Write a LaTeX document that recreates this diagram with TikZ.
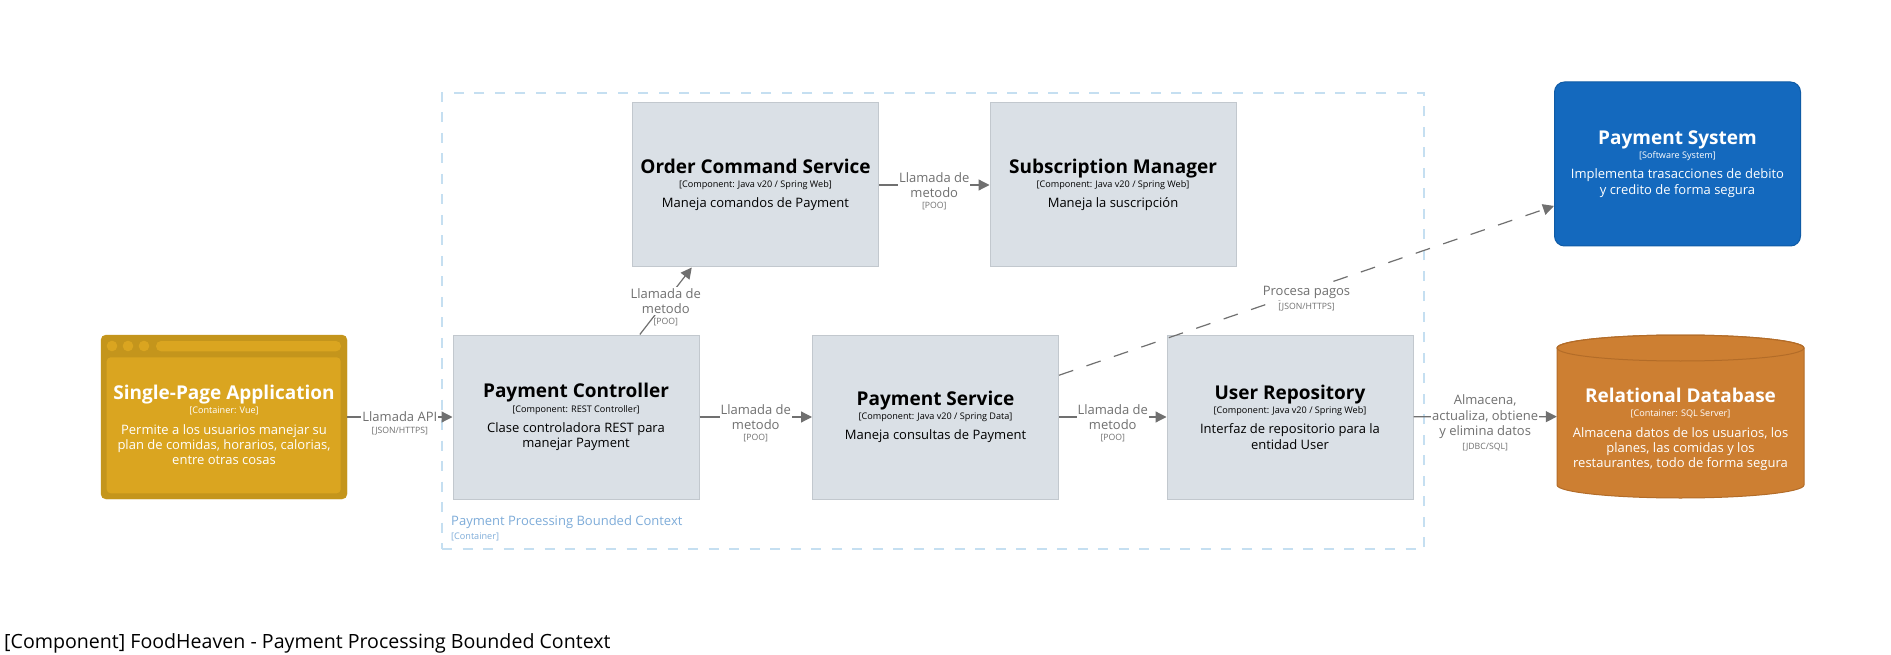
\documentclass[tikz,border=0pt]{standalone}
\usepackage{fontspec}
\setmainfont{Open Sans}
\usetikzlibrary{shapes.geometric, arrows.meta}

\definecolor{compfill}{HTML}{DAE0E6}
\definecolor{compline}{HTML}{C2C8CE}
\definecolor{spadark}{HTML}{C4951C}
\definecolor{spalight}{HTML}{DAA520}
\definecolor{sysfill}{HTML}{1469BE}
\definecolor{sysline}{HTML}{0F5BA6}
\definecolor{dbfill}{HTML}{CD7F32}
\definecolor{dbline}{HTML}{B36C28}
\definecolor{relgray}{HTML}{707070}
\definecolor{ctxline}{HTML}{C5DFF1}
\definecolor{ctxtext}{HTML}{7EACD9}

\newcommand{\ttl}{\fontsize{19}{22}\selectfont\bfseries}
\newcommand{\kind}{\fontsize{9.1}{10.5}\selectfont}
\newcommand{\dsc}{\fontsize{13}{15.3}\selectfont}

\tikzset{
  comp/.style={draw=compline, fill=compfill, line width=1pt, minimum width=246pt,
    minimum height=164pt, inner sep=0pt, align=center, font=\dsc},
  sys/.style={comp, draw=sysline, fill=sysfill, text=white, rounded corners=10pt},
  rel/.style={->, >={Triangle[length=11pt, width=11pt]}, draw=relgray, line width=1.2pt},
  elabel/.style={fill=white, text=relgray, inner sep=1pt, align=center, font=\dsc},
  tech/.style={fill=white, text=relgray, inner sep=0.5pt, font=\fontsize{8.7}{10}\selectfont}
}

\begin{document}
\begin{tikzpicture}[x=1pt, y=-1pt, label distance=2pt]
  \path[fill=white, use as bounding box] (0,0) rectangle (1891,655);

  % container boundary
  \node[draw=ctxline, line width=1.5pt, dash pattern=on 10pt off 10.5pt,
    minimum width=982pt, minimum height=456pt, inner sep=0pt] (ctx) at (933,321) {};
  \node[anchor=west, inner sep=0pt, text=ctxtext, font=\fontsize{13}{15}\selectfont]
    (ctxname) at (451,522) {Payment Processing Bounded Context};
  \node[anchor=west, inner sep=0pt, text=ctxtext, font=\kind] (ctxkind) at (451,537) {[Container]};

  % single-page application
  \node[draw=spadark, fill=spadark, rounded corners=5pt, minimum width=246pt,
    minimum height=164pt, inner sep=0pt] (spa) at (224,417) {};
  \foreach \cx in {112,128,144}
    \fill[spalight] (\cx,346) circle[radius=5.3pt];
  \fill[spalight, rounded corners=5pt] (156,341) rectangle (341,351.3);
  \fill[spalight, rounded corners=4pt] (106.7,357.3) rectangle (340.7,493.3);
  \node[align=center, text=white, font=\dsc, inner sep=0pt] (spatext) at (224,425)
    {{\ttl Single-Page Application}\\[-1pt]{\kind [Container: Vue]}\\[5pt]
     Permite a los usuarios manejar su\\plan de comidas, horarios, calorias,\\entre otras cosas};

  % components
  \node[comp] (ordercmd) at (755.5,185)
    {{\ttl Order Command Service}\\[-1pt]{\kind [Component: Java v20 / Spring Web]}\\[5pt]
     Maneja comandos de Payment};
  \node[comp] (submgr) at (1113,185)
    {{\ttl Subscription Manager}\\[-1pt]{\kind [Component: Java v20 / Spring Web]}\\[5pt]
     Maneja la suscripción};
  \node[comp] (ctrl) at (576,417)
    {{\ttl Payment Controller}\\[-1pt]{\kind [Component: REST Controller]}\\[5pt]
     Clase controladora REST para\\manejar Payment};
  \node[comp] (paysvc) at (935.5,417)
    {{\ttl Payment Service}\\[-1pt]{\kind [Component: Java v20 / Spring Data]}\\[5pt]
     Maneja consultas de Payment};
  \node[comp] (userrepo) at (1290,417)
    {{\ttl User Repository}\\[-1pt]{\kind [Component: Java v20 / Spring Web]}\\[5pt]
     Interfaz de repositorio para la\\entidad User};

  % external system
  \node[sys] (paysys) at (1677.5,164)
    {{\ttl Payment System}\\[-1pt]{\kind [Software System]}\\[5pt]
     Implementa trasacciones de debito\\y credito de forma segura};

  % database
  \node[minimum width=247pt, minimum height=163pt, inner sep=0pt] (db) at (1680.5,416.5) {};
  \draw[fill=dbfill, draw=dbline, line width=1pt] (1557,348) -- (1557,485)
    arc[start angle=180, end angle=360, x radius=123.5pt, y radius=13pt] -- (1804,348)
    arc[start angle=0, end angle=180, x radius=123.5pt, y radius=13pt] -- cycle;
  \draw[draw=dbline, line width=1pt] (1680.5,348) ellipse[x radius=123.5pt, y radius=13pt];
  \node[align=center, text=white, font=\dsc, inner sep=0pt] (dbtext) at (1680.5,429.5)
    {{\ttl Relational Database}\\[-1pt]{\kind [Container: SQL Server]}\\[5pt]
     Almacena datos de los usuarios, los\\planes, las comidas y los\\restaurantes, todo de forma segura};

  % relationships
  \draw[rel] (spa) -- node[elabel, label={[tech]below:[JSON/HTTPS]}] {Llamada API} (ctrl);
  \draw[rel] (ctrl) -- node[elabel, label={[tech]below:[POO]}] {Llamada de\\metodo} (ordercmd);
  \draw[rel] (ordercmd) -- node[elabel, label={[tech]below:[POO]}] {Llamada de\\metodo} (submgr);
  \draw[rel] (ctrl) -- node[elabel, label={[tech]below:[POO]}] {Llamada de\\metodo} (paysvc);
  \draw[rel] (paysvc) -- node[elabel, label={[tech]below:[POO]}] {Llamada de\\metodo} (userrepo);
  \draw[rel, dash pattern=on 15pt off 14pt] (paysvc) --
    node[elabel, label={[tech]below:[JSON/HTTPS]}, yshift=-2pt] {Procesa pagos} (paysys);
  \draw[rel] (userrepo) -- node[elabel, label={[tech]below:[JDBC/SQL]}]
    {Almacena,\\actualiza, obtiene\\y elimina datos} (db);

  \node[anchor=west, inner sep=0pt, font=\fontsize{19.6}{23}\selectfont] (caption) at (4,643)
    {[Component] FoodHeaven - Payment Processing Bounded Context};
\end{tikzpicture}
\end{document}
